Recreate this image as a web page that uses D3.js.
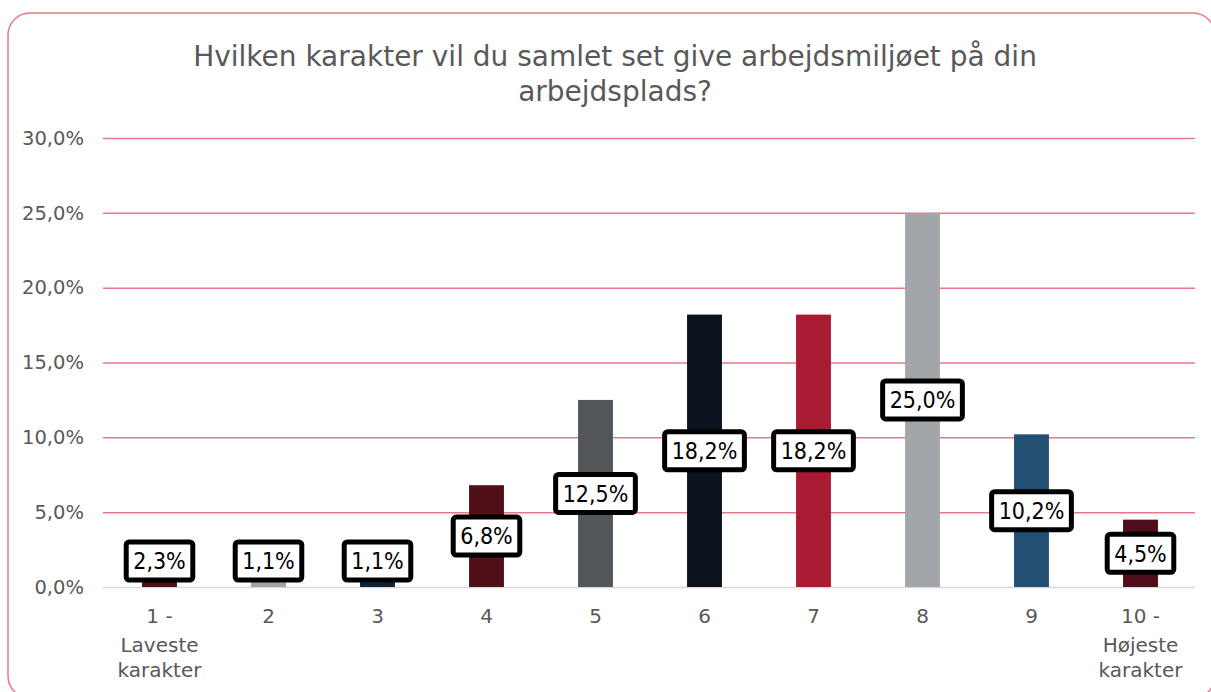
<!DOCTYPE html>
<html><head><meta charset="utf-8">
<script src="https://cdn.jsdelivr.net/npm/d3@7"></script>
<style>body{margin:0;background:#fff}svg{display:block}</style>
</head><body><svg id="c" width="1211" height="692"></svg>
<script>
const categories = ["1 - Laveste karakter","2","3","4","5","6","7","8","9","10 - Højeste karakter"];
const categoryLines = [["1 -","Laveste","karakter"],["2"],["3"],["4"],["5"],["6"],["7"],["8"],["9"],["10 -","Højeste","karakter"]];
const values = [2.3,1.1,1.1,6.8,12.5,18.2,18.2,25.0,10.2,4.5];
const barColors = ["#4f0d1a","#a0a4a7","#102438","#4f0f19","#535658","#0b141e","#a91b33","#a3a6a9","#234f72","#4f0d1a"];
const yTicks = [0,5,10,15,20,25,30];
const titleLines = ["Hvilken karakter vil du samlet set give arbejdsmiljøet på din","arbejdsplads?"];

const font = "'DejaVu Sans', sans-serif";
const fontC = "'DejaVu Sans Condensed', 'DejaVu Sans', sans-serif";
const svg = d3.select("#c");
svg.append("rect").attr("x",8).attr("y",13).attr("width",1207).attr("height",685).attr("rx",22)
  .attr("fill","#fff").attr("stroke","#e8788c").attr("stroke-width",1.5);

const x = d3.scaleBand().domain(categories).range([105,1195]).paddingInner(0.68).paddingOuter(0.34);
const y = d3.scaleLinear().domain([0,30]).range([587,138]);
const fmt = v => d3.format(".1f")(v).replace(".", ",") + "%";

// title
svg.append("g").selectAll("text").data(titleLines).join("text")
  .attr("x",615).attr("y",(d,i)=>66+i*35).attr("text-anchor","middle")
  .attr("font-family",font).attr("font-size",28).attr("fill","#595959").text(d=>d);

// grid
const yAxis = d3.axisLeft(y).tickValues(yTicks).tickSize(-(1195-103)).tickFormat(d=>d3.format(".1f")(d).replace(".",",")+"%").tickPadding(19);
const gy = svg.append("g").attr("transform","translate(103,0)").call(yAxis);
gy.select(".domain").remove();
gy.selectAll(".tick line").attr("stroke",(d)=>d===0?"#d9d9d9":"#e8788c").attr("stroke-width",1.5);
gy.selectAll(".tick text").attr("font-family",font).attr("font-size",19.5).attr("fill","#595959");

// bars
svg.append("g").selectAll("rect").data(values).join("rect")
  .attr("x",(d,i)=>x(categories[i])).attr("width",x.bandwidth())
  .attr("y",d=>y(d)).attr("height",d=>y(0)-y(d))
  .attr("fill",(d,i)=>barColors[i]);

// x labels
const xl = svg.append("g");
const lineY = [623,652,677];
categoryLines.forEach((lines,i)=>{
  xl.append("text").attr("text-anchor","middle").attr("font-family",font).attr("font-size",20).attr("fill","#595959")
    .selectAll("tspan").data(lines).join("tspan")
    .attr("x",x(categories[i])+x.bandwidth()/2).attr("y",(d,j)=>lineY[j]).text(d=>d);
});

// data labels
const lg = svg.append("g");
values.forEach((v,i)=>{
  const cx = x(categories[i])+x.bandwidth()/2;
  const cy = Math.min((y(v)+y(0))/2, 561);
  const g = lg.append("g");
  const t = g.append("text").attr("x",cx).attr("y",cy).attr("dy","0.36em").attr("text-anchor","middle")
    .attr("font-family",fontC).attr("font-size",23).attr("fill","#000").text(fmt(v));
  const w = t.node().getComputedTextLength();
  g.insert("rect","text").attr("x",cx-w/2-7).attr("y",cy-19).attr("width",w+14).attr("height",38)
    .attr("rx",3).attr("fill","#fff").attr("stroke","#000").attr("stroke-width",5);
});
</script></body></html>
